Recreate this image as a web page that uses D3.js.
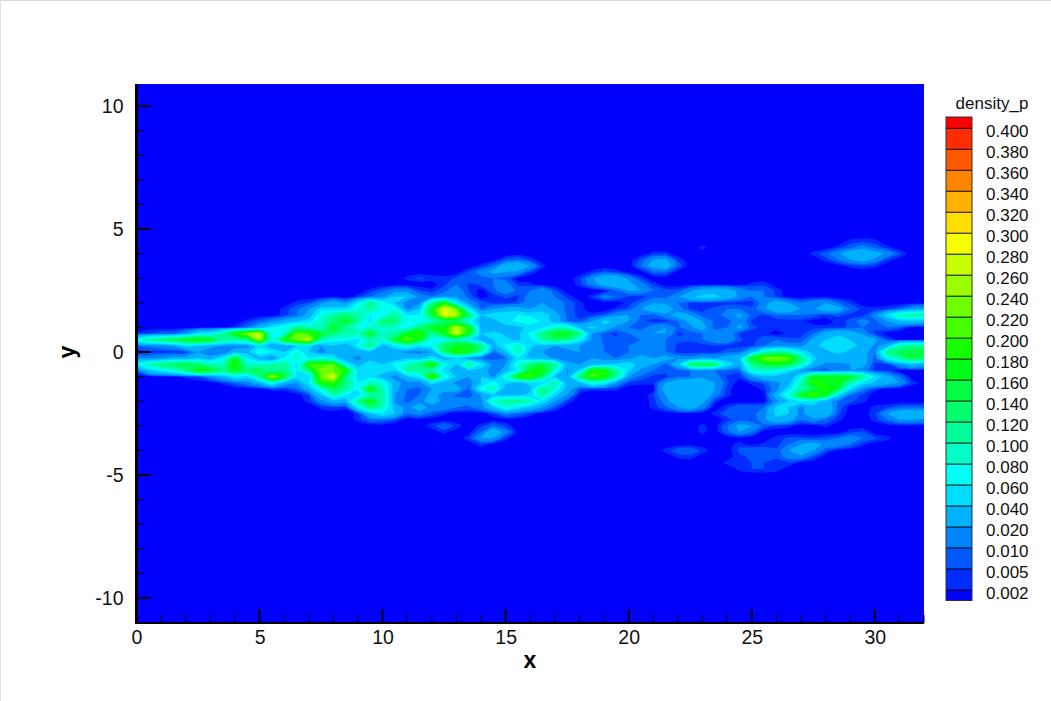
<!DOCTYPE html>
<html>
<head>
<meta charset="utf-8">
<script src="https://cdn.jsdelivr.net/npm/d3@7"></script>
<style>
  html, body { margin: 0; padding: 0; background: #fff; }
  svg { display: block; font-family: 'Liberation Sans', Arial, sans-serif; }
</style>
</head>
<body>
<svg id="chart" width="1051" height="701"></svg>
<script>
// contour levels of the legend, lowest first
var levels = [0.002, 0.005, 0.01, 0.02, 0.04, 0.06, 0.08, 0.1, 0.12, 0.14, 0.16, 0.18, 0.2, 0.22, 0.24, 0.26, 0.28, 0.3, 0.32, 0.34, 0.36, 0.38, 0.4]
var levelLabels = ['0.002', '0.005', '0.010', '0.020', '0.040', '0.060', '0.080', '0.100', '0.120', '0.140', '0.160', '0.180', '0.200', '0.220', '0.240', '0.260', '0.280', '0.300', '0.320', '0.340', '0.360', '0.380', '0.400']
var xTicks = [0, 5, 10, 15, 20, 25, 30]
var yTicks = [-10, -5, 0, 5, 10]
var gridX0 = 0
var gridXStep = 0.5
var gridYTop = 5
var gridYStep = 0.25
var gridCols = 65

// density_p, in thousandths. one row per y (5 down to -5), one value per x (0 to 32)
var densityRows = [
  [],
  [],
  [0,0,0,0,0,0,0,0,0,0, 0,0,0,0,0,0,0,0,0,0, 0,0,0,0,0,0,0,0,0,0, 0,0,0,0,0,0,0,0,0,0, 0,0,0,0,0,0,0,0,0,0, 0,0,0,0,0,0,0,0,3,4, 3],
  [0,0,0,0,0,0,0,0,0,0, 0,0,0,0,0,0,0,0,0,0, 0,0,0,0,0,0,0,0,0,0, 0,0,0,0,0,0,0,0,0,0, 0,0,0,0,0,0,3,0,0,0, 0,0,0,0,0,0,0,3,8,14, 8,3],
  [0,0,0,0,0,0,0,0,0,0, 0,0,0,0,0,0,0,0,0,0, 0,0,0,0,0,0,0,0,0,0, 0,0,0,0,0,0,0,0,0,0, 0,0,3,3,0,0,0,0,0,0, 0,0,0,0,0,3,8,17,32,40, 28,17,6],
  [0,0,0,0,0,0,0,0,0,0, 0,0,0,0,0,0,0,0,0,0, 0,0,0,0,0,0,0,0,0,0, 6,10,4,0,0,0,0,0,0,0, 0,6,20,24,4,0,0,0,0,0, 0,0,0,0,0,0,3,10,20,28, 17,4],
  [0,0,0,0,0,0,0,0,0,0, 0,0,0,0,0,0,0,0,0,0, 0,0,0,0,0,0,0,0,3,10, 32,40,20,3,0,0,0,0,0,0, 0,10,28,32,8,0,0,0,0,0, 0,0,0,0,0,0,0,0,3,4, 3],
  [0,0,0,0,0,0,0,0,0,0, 0,0,0,0,0,0,0,0,0,0, 0,0,0,0,0,0,0,6,14,24, 20,17,4,0,0,0,0,3,6,4, 0,0,8,8],
  [0,0,0,0,0,0,0,0,0,0, 0,0,0,0,0,0,0,0,0,0, 0,0,3,6,4,3,6,10,8,10, 8,0,0,0,0,0,4,17,36,32, 17,4],
  [0,0,0,0,0,0,0,0,0,0, 0,0,0,0,0,0,0,0,0,0, 0,0,0,0,0,4,10,4,6,10, 14,4,3,0,0,0,3,14,28,36, 24,14,4,0,0,0,0,0,0,0, 3,4],
  [0,0,0,0,0,0,0,0,0,0, 0,0,0,0,0,0,0,0,0,3, 8,15,15,5,3,8,15,5,0,8, 17,8,10,20,6,0,0,0,0,8, 20,20,10,6,6,17,28,32,28,17, 10,10,4],
  [0,0,0,0,0,0,0,0,0,0, 0,0,0,0,0,0,0,0,3,10, 15,40,40,15,10,15,20,8,0,3, 6,4,14,17,10,4,0,3,14,10, 4,3,8,8,17,36,45,45,32,17, 10,10,4],
  [0,0,0,0,0,0,0,0,0,0, 0,0,0,3,5,15,30,15,60,120, 70,40,10,15,110,180,60,15,8,3, 3,6,14,20,17,8,3,0,0,0, 3,10,20,17,10,4,4,3,3,3, 3,14,32,20,10,17,20,10,4],
  [0,0,0,0,0,0,0,0,0,0, 0,0,3,8,20,50,45,50,80,110, 70,80,15,40,170,290,230,60,10,20, 28,28,20,28,17,8,3,0,0,3, 6,20,32,32,14,4,4,6,10,10, 6,17,36,36,20,17,32,28,10,4, 3,4,8,20,24],
  [0,0,0,0,0,0,0,0,0,0, 0,0,3,10,25,80,110,130,110,60, 60,110,60,60,150,290,260,130,40,50, 55,60,55,55,28,8,3,3,6,17, 20,10,8,17,28,20,6,6,14,24, 8,4,8,10,10,8,4,6,4,3, 15,50,100,110,110],
  [0,0,0,0,0,0,0,0,0,3, 8,15,25,40,50,90,130,170,110,50, 140,130,70,60,90,130,130,70,30,30, 55,65,80,55,28,10,6,20,45,36, 20,6,3,3,10,24,20,8,6,17, 4,3,3,3,3,0,0,3,6,14, 8,20,36,36,28],
  [0,0,0,0,0,0,0,0,3,10, 30,60,80,110,100,80,170,110,70,90, 90,80,70,130,170,170,270,180,30,20, 28,36,45,55,90,90,36,45,36,14, 10,6,17,20,8,17,28,6,10,24, 6,4,3,3,3,4,3,3,6,10, 6,10,6],
  [3,5,8,8,20,50,60,110,190,240, 280,60,80,230,200,160,130,100,100,170, 90,110,170,200,110,170,280,170,40,50, 36,36,65,120,170,170,120,20,6,4, 10,14,20,20,4,6,10,17,17,4, 3,3,0,3,3,10,28,36,32,17, 4],
  [70,110,130,150,170,190,170,110,100,120, 260,70,180,230,280,100,70,70,50,100, 80,160,230,170,70,70,100,60,30,40, 45,36,55,110,130,120,65,17,8,6, 6,10,17,10,6,6,10,17,20,6, 3,8,10,6,6,24,40,50,40,36, 24,6],
  [10,12,15,20,50,40,25,20,15,15, 50,25,20,40,50,20,40,20,70,130, 30,60,80,50,70,140,170,180,130,30, 65,90,45,28,20,24,20,17,10,6, 10,20,17,10,4,3,3,4,3,3, 4,10,17,14,14,36,45,50,45,36, 17,28,100,110,110],
  [0,3,3,3,3,20,10,10,30,35, 80,60,40,80,40,10,35,30,25,30, 30,25,15,15,20,130,190,170,100,10, 36,100,36,20,17,17,20,14,10,6, 10,17,17,10,3,3,3,3,8,10, 36,90,110,100,60,32,36,45,36,28, 10,120,140,160,160],
  [15,15,20,25,25,40,25,60,170,60, 30,10,60,90,60,80,50,25,15,30, 30,20,40,30,60,30,40,15,10,8, 10,55,28,28,17,10,14,20,14,10, 17,24,20,28,17,14,24,20,28,36, 170,230,240,220,130,45,28,28,32,28, 8,65,110,150,130],
  [60,100,130,140,150,130,100,90,200,90, 80,100,120,50,200,200,220,70,30,60, 40,70,90,130,200,70,40,130,60,15, 20,80,130,150,110,28,20,28,36,45, 55,28,20,8,36,140,150,140,55,28, 120,150,170,150,100,36,17,17,20,28, 4,3,20,36,28],
  [8,40,60,80,120,190,170,120,170,130, 150,100,120,60,130,230,220,190,50,60, 50,40,110,100,100,50,25,40,30,10, 28,65,170,190,80,17,45,190,190,110, 45,17,10,6,8,10,17,10,8,6, 80,90,80,55,20,8,6,14,20,14, 4,3],
  [0,0,0,0,3,5,15,30,60,50, 120,270,170,50,40,230,290,120,50,50, 30,15,40,60,230,80,40,20,40,15, 80,190,210,130,36,20,130,210,190,110, 20,8,4,4,8,10,17,14,4,3, 20,36,36,20,65,170,170,170,160,120, 55,28,10],
  [0,0,0,0,0,0,0,3,8,15, 30,80,30,20,60,190,200,120,60,100, 80,25,15,15,50,30,15,10,40,70, 45,36,45,45,110,28,36,80,65,20, 4,3,3,20,32,36,36,20,6,0, 3,6,17,28,100,190,180,170,100,55, 36,28,20,4],
  [0,0,0,0,0,0,0,0,0,0, 0,3,3,8,30,80,150,110,60,190, 100,25,10,8,20,25,30,8,70,100, 20,20,36,130,80,28,6,3,3,3, 0,0,0,28,36,40,36,20,3,0, 0,3,14,50,100,140,190,150,50,14, 4],
  [0,0,0,0,0,0,0,0,0,0, 0,0,0,0,5,40,100,60,50,100, 100,20,8,10,25,15,8,5,20,40, 36,36,45,110,45,20,0,0,0,0, 0,0,4,20,36,40,36,14,3,0, 0,0,30,90,170,220,170,50,10,4],
  [0,0,0,0,0,0,0,0,0,0, 0,0,0,0,3,15,30,25,120,180, 110,15,8,15,30,15,15,15,15,90, 110,120,100,55,20,4,0,0,0,0, 0,0,3,14,32,32,24,3,0,0, 0,0,15,40,60,50,30,10,6,3],
  [0,0,0,0,0,0,0,0,0,0, 0,0,0,0,0,3,5,3,60,130, 90,30,15,30,15,15,10,8,15,40, 80,55,36,20,6,0,0,0,0,0, 0,0,3,8,20,28,14,0,4,10, 8,10,45,40,14,36,36,8,0,0, 3,4,8,8,8],
  [0,0,0,0,0,0,0,0,0,0, 0,0,0,0,0,0,0,0,3,40, 60,40,10,15,8,3,0,0,0,5, 14,10,4,0,0,0,0,0,0,0, 0,0,0,0,0,0,0,3,8,10, 8,14,45,40,14,36,36,6,0,0, 4,20,36,36,36],
  [0,0,0,0,0,0,0,0,0,0, 0,0,0,0,0,0,0,0,3,10, 10,5,0,0,0,0,0,0,0,0, 0,0,0,0,0,0,0,0,0,0, 0,0,0,0,0,0,0,0,3,8, 4,17,36,28,10,17,10,3,0,0, 3,10,20,20,17],
  [0,0,0,0,0,0,0,0,0,0, 0,0,0,0,0,0,0,0,0,0, 0,0,0,0,4,10,4,0,3,10, 4,0,0,0,0,0,0,0,0,0, 0,0,0,0,0,0,3,0,10,24, 20,8,4,3,0,0,3],
  [0,0,0,0,0,0,0,0,0,0, 0,0,0,0,0,0,0,0,0,0, 0,0,0,0,0,3,0,0,10,36, 14,0,0,0,0,0,0,0,0,0, 0,0,0,0,0,0,3,0,8,20, 10,0,0,0,0,0,0,0,4,6],
  [0,0,0,0,0,0,0,0,0,0, 0,0,0,0,0,0,0,0,0,0, 0,0,0,0,0,0,0,4,20,20, 3,0,0,0,0,0,0,0,0,0, 0,0,0,0,0,0,0,0,0,0, 0,0,3,6,6,4,6,10,17,10, 6,3],
  [0,0,0,0,0,0,0,0,0,0, 0,0,0,0,0,0,0,0,0,0, 0,0,0,0,0,0,0,0,4,0, 0,0,0,0,0,0,0,0,0,0, 0,0,0,0,0,0,0,0,0,4, 0,3,3,10,20,28,17,20,10,3],
  [0,0,0,0,0,0,0,0,0,0, 0,0,0,0,0,0,0,0,0,0, 0,0,0,0,0,0,0,0,0,0, 0,0,0,0,0,0,0,0,0,0, 0,0,0,3,8,10,4,0,0,6, 10,8,6,20,36,20,6],
  [0,0,0,0,0,0,0,0,0,0, 0,0,0,0,0,0,0,0,0,0, 0,0,0,0,0,0,0,0,0,0, 0,0,0,0,0,0,0,0,0,0, 0,0,0,0,3,4,0,0,0,4, 6,6,6,14,17,6],
  [0,0,0,0,0,0,0,0,0,0, 0,0,0,0,0,0,0,0,0,0, 0,0,0,0,0,0,0,0,0,0, 0,0,0,0,0,0,0,0,0,0, 0,0,0,0,0,0,0,0,3,3, 5,5,3,5],
  [0,0,0,0,0,0,0,0,0,0, 0,0,0,0,0,0,0,0,0,0, 0,0,0,0,0,0,0,0,0,0, 0,0,0,0,0,0,0,0,0,0, 0,0,0,0,0,0,0,0,0,3, 5,5,4],
  []
]

var svg = d3.select('#chart')
var margin = {top: 84, right: 127, bottom: 78, left: 136.5}
var width = 787.5
var height = 539

var x = d3.scaleLinear().domain([0, 32]).range([margin.left, margin.left + width])
var y = d3.scaleLinear().domain([-10, 10]).range([598, 106])

// rainbow from blue to red, one colour per band
var bandColor = d3.scaleLinear()
  .domain([0, levels.length])
  .range([240, 0])
function colorOf (band) {
  return d3.hsl(bandColor(band), 1, 0.5).formatHex()
}

// window frame of the screenshot
svg.append('rect').attr('x', 0).attr('y', 0).attr('width', 1051).attr('height', 1).attr('fill', '#d4d4d4')
svg.append('rect').attr('x', 0).attr('y', 0).attr('width', 1).attr('height', 701).attr('fill', '#e2e2e2')

svg.append('clipPath').attr('id', 'plot-clip')
  .append('rect')
  .attr('x', margin.left).attr('y', margin.top)
  .attr('width', width).attr('height', height)

var plot = svg.append('g').attr('clip-path', 'url(#plot-clip)')
plot.append('rect')
  .attr('x', margin.left).attr('y', margin.top)
  .attr('width', width).attr('height', height)
  .attr('fill', colorOf(0))

// flatten the rows for d3.contours
var rowCount = densityRows.length
var values = []
densityRows.forEach(function (row) {
  for (var c = 0; c < gridCols; c++) values.push((row[c] || 0) / 1000)
})

var contours = d3.contours()
  .size([gridCols, rowCount])
  .thresholds(levels)(values)

var gridToScreen = d3.geoTransform({
  point: function (gx, gy) {
    this.stream.point(x(gridX0 + (gx - 0.5) * gridXStep), y(gridYTop - (gy - 0.5) * gridYStep))
  }
})
var path = d3.geoPath(gridToScreen)

plot.selectAll('path.band')
  .data(contours)
  .enter().append('path')
  .attr('class', 'band')
  .attr('d', path)
  .attr('fill', function (d, i) { return colorOf(i + 1) })

// axes
var axisX = d3.axisBottom(x).tickValues(xTicks).tickSize(0).tickFormat(String)
var axisY = d3.axisLeft(y).tickValues(yTicks).tickSize(0).tickPadding(13).tickFormat(String)

var gx = svg.append('g').attr('transform', 'translate(0,' + (margin.top + height) + ')').call(axisX)
var gy = svg.append('g').attr('transform', 'translate(' + margin.left + ',0)').call(axisY)
gx.select('.domain').remove()
gy.select('.domain').remove()
gx.selectAll('text').attr('y', 7).attr('dy', '0.71em').style('font-size', '19.5px').style('font-family', 'Liberation Sans').attr('fill', '#111')
gy.selectAll('text').style('font-size', '19.5px').style('font-family', 'Liberation Sans').attr('fill', '#111')

// ticks point inward
var minorX = d3.range(0, 33)
var minorY = d3.range(-11, 11)
svg.append('g').selectAll('line')
  .data(minorX)
  .enter().append('line')
  .attr('x1', function (d) { return x(d) })
  .attr('x2', function (d) { return x(d) })
  .attr('y1', margin.top + height)
  .attr('y2', function (d) { return margin.top + height - (d % 5 === 0 ? 14 : 8) })
  .attr('stroke', '#000')
  .attr('stroke-width', function (d) { return d % 5 === 0 ? 2 : 1 })
svg.append('g').selectAll('line')
  .data(minorY)
  .enter().append('line')
  .attr('y1', function (d) { return y(d) })
  .attr('y2', function (d) { return y(d) })
  .attr('x1', margin.left)
  .attr('x2', function (d) { return margin.left + (d % 5 === 0 ? 14 : 8) })
  .attr('stroke', '#000')
  .attr('stroke-width', function (d) { return d % 5 === 0 ? 2 : 1 })

svg.append('line')
  .attr('x1', margin.left).attr('x2', margin.left)
  .attr('y1', margin.top).attr('y2', margin.top + height + 1)
  .attr('stroke', '#000').attr('stroke-width', 3)
svg.append('line')
  .attr('x1', margin.left - 1).attr('x2', margin.left + width)
  .attr('y1', margin.top + height).attr('y2', margin.top + height)
  .attr('stroke', '#000').attr('stroke-width', 2)

svg.append('text')
  .attr('x', 530).attr('y', 668)
  .attr('text-anchor', 'middle')
  .style('font-size', '23px').style('font-weight', 'bold')
  .text('x')
svg.append('text')
  .attr('transform', 'translate(75,352) rotate(-90)')
  .attr('text-anchor', 'middle')
  .style('font-size', '23px').style('font-weight', 'bold')
  .text('y')

// legend
var legend = svg.append('g')
var legendY = d3.scaleLinear().domain([0, levels.length - 1]).range([590, 128.3])
var legendX = 946
var legendW = 26
var legendTop = 117
var legendBottom = 600.5

legend.selectAll('rect.swatch')
  .data(d3.range(levels.length + 1))
  .enter().append('rect')
  .attr('class', 'swatch')
  .attr('x', legendX)
  .attr('width', legendW)
  .attr('y', function (d) { return d === levels.length ? legendTop : legendY(d) })
  .attr('height', function (d) {
    var top = d === levels.length ? legendTop : legendY(d)
    var bottom = d === 0 ? legendBottom : legendY(d - 1)
    return bottom - top
  })
  .attr('fill', colorOf)

legend.selectAll('line.level')
  .data(levels)
  .enter().append('line')
  .attr('class', 'level')
  .attr('x1', legendX).attr('x2', legendX + legendW)
  .attr('y1', function (d, i) { return legendY(i) })
  .attr('y2', function (d, i) { return legendY(i) })
  .attr('stroke', '#000').attr('stroke-width', 1)

legend.append('rect')
  .attr('x', legendX).attr('y', legendTop)
  .attr('width', legendW).attr('height', legendBottom - legendTop)
  .attr('fill', 'none').attr('stroke', '#333').attr('stroke-width', 1)

legend.selectAll('text.level')
  .data(levelLabels)
  .enter().append('text')
  .attr('class', 'level')
  .attr('x', 986)
  .attr('y', function (d, i) { return legendY(i) + 8.5 })
  .style('font-size', '17px')
  .attr('fill', '#111')
  .text(function (d) { return d })

legend.append('text')
  .attr('x', 992).attr('y', 109)
  .attr('text-anchor', 'middle')
  .style('font-size', '17px')
  .attr('fill', '#111')
  .text('density_p')
</script>
</body>
</html>
